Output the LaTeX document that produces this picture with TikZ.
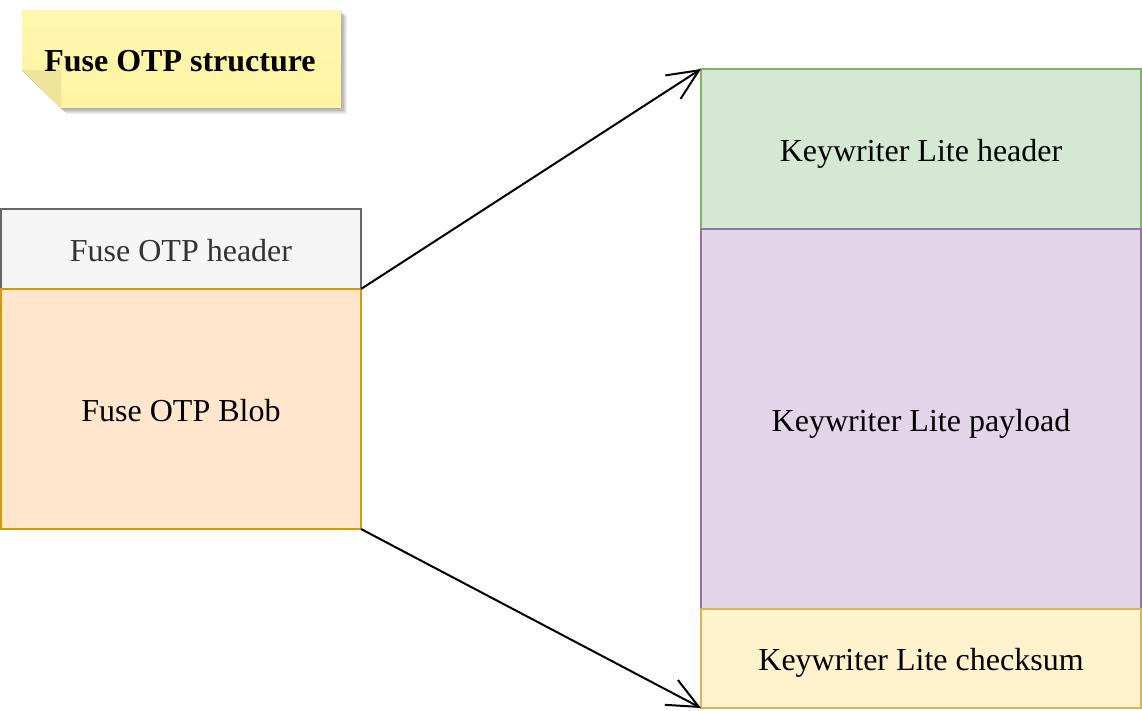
\documentclass[tikz,border=0pt]{standalone}
\usepackage{fontspec}
\setmainfont{Liberation Serif}
\usetikzlibrary{arrows.meta}
\definecolor{notefill}{HTML}{FFF4A3}
\definecolor{notetop}{HTML}{FFF7B0}
\definecolor{notefold}{HTML}{EEE49A}
\definecolor{grayfill}{HTML}{F5F5F5}
\definecolor{graydraw}{HTML}{666666}
\definecolor{graytext}{HTML}{333333}
\definecolor{orangefill}{HTML}{FFE6CC}
\definecolor{orangedraw}{HTML}{D79B00}
\definecolor{greenfill}{HTML}{D5E8D4}
\definecolor{greendraw}{HTML}{82B366}
\definecolor{purplefill}{HTML}{E1D5E7}
\definecolor{purpledraw}{HTML}{9673A6}
\definecolor{yellowfill}{HTML}{FFF2CC}
\definecolor{yellowdraw}{HTML}{D6B656}
\tikzset{
  blk/.style={draw, line width=2pt, rectangle, anchor=north west, outer sep=0pt, inner sep=0pt,
    font=\fontsize{32}{38}\selectfont, align=center, text height=24pt, text depth=0pt},
  conn/.style={line width=2pt, -{Straight Barb[length=31pt,width=28pt,line width=2pt]}},
}
\begin{document}
\begin{tikzpicture}[x=1pt,y=-1pt]
\useasboundingbox (0,0) rectangle (1142,710);
% note shadow
\foreach \d/\o in {6/0.05,5/0.06,4/0.08,3/0.10}{
  \fill[black, opacity=\o] (22+\d,10+\d) -- (341+\d,10+\d) -- (341+\d,108+\d) -- (61+\d,108+\d) -- (22+\d,70+\d) -- cycle;
}
\fill[top color=notetop, bottom color=notefill] (22,10) -- (341,10) -- (341,108) -- (61,108) -- (22,70) -- cycle;
\fill[notefold] (22,70) -- (61,70) -- (61,108) -- cycle;
\node[font=\fontsize{32}{38}\selectfont\bfseries, text height=24pt, text depth=0pt] (title) at (180,59) {Fuse OTP structure};
% left boxes
\node[blk, draw=graydraw, fill=grayfill, text=graytext, minimum width=360pt, minimum height=80pt] (hdr) at (1,209) {Fuse OTP header};
\node[blk, draw=orangedraw, fill=orangefill, minimum width=360pt, minimum height=240pt] (blob) at (1,289) {Fuse OTP Blob};
% right boxes
\node[blk, draw=greendraw, fill=greenfill, minimum width=440pt, minimum height=160pt] (kwh) at (701,69) {Keywriter Lite header};
\node[blk, draw=purpledraw, fill=purplefill, minimum width=440pt, minimum height=380pt] (kwp) at (701,229) {Keywriter Lite payload};
\node[blk, draw=yellowdraw, fill=yellowfill, minimum width=440pt, minimum height=99pt] (kwc) at (701,609) {Keywriter Lite checksum};
% connectors
\draw[conn] (hdr.south east) -- (kwh.north west);
\draw[conn] (blob.south east) -- (kwc.south west);
\end{tikzpicture}
\end{document}
